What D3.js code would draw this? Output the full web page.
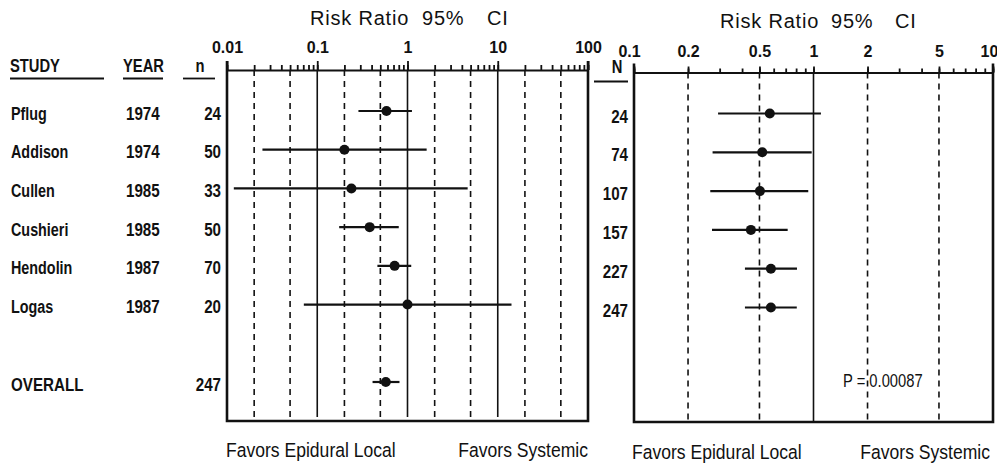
<!DOCTYPE html>
<html><head><meta charset="utf-8">
<script src="https://cdn.jsdelivr.net/npm/d3@7"></script>
<style>body{margin:0;background:#fff} svg{display:block}</style>
</head><body><svg id="c" width="997" height="468"></svg>
<script>
// ---------- data ----------
const studies = ["Pflug","Addison","Cullen","Cushieri","Hendolin","Logas"];
const years = [1974,1974,1985,1985,1987,1987];
const nValues = [24,50,33,50,70,20];
const rr = [0.585,0.20,0.239,0.381,0.72,1.0];
const ciLow = [0.286,0.0247,0.0119,0.175,0.464,0.071];
const ciHigh = [1.12,1.63,4.64,0.80,1.10,14.2];
const overallLabel = "OVERALL";
const overallN = 247;
const overallRR = 0.575, overallLow = 0.41, overallHigh = 0.815;

const cumN = [24,74,107,157,227,247];
const cumRR = [0.571,0.518,0.503,0.448,0.579,0.579];
const cumLow = [0.294,0.274,0.266,0.272,0.415,0.415];
const cumHigh = [1.10,0.977,0.935,0.718,0.809,0.807];
const pText = "P = 0.00087";

const leftTickVals = [0.01,0.1,1,10,100];
const leftTickLabels = ["0.01","0.1","1","10","100"];
const rightTickVals = [0.1,0.2,0.5,1,2,5,10];
const rightTickLabels = ["0.1","0.2","0.5","1","2","5","10"];
const leftDashed = [0.02,0.05,0.2,0.5,2,5,20,50];
const leftSolid = [0.1,1,10];
const rightDashed = [0.2,0.5,2,5];
const rightSolid = [1];
const title = ["Risk Ratio","95%","CI"];
const favors = ["Favors Epidural Local","Favors Systemic"];

// ---------- setup ----------
const svg = d3.select("#c");
const SANS = "'Liberation Sans',Arial,Helvetica,sans-serif";

const xL = d3.scaleLog().domain([0.01,100]).range([227,588]);
const xR = d3.scaleLog().domain([0.1,10]).range([634,993]);
const yL = d3.scaleLinear().domain([0,7]).range([111,382]);
const yR = d3.scaleLinear().domain([0,5]).range([113.5,307.5]);
const L = {top:70, bottom:421};
const R = {top:72.5, bottom:422};

// text helper; sx < 1 gives a condensed look like the original typeface
function txt(x,y,s,opt){
  const sx = opt.sx==null?0.82:opt.sx;
  const t = svg.append("text").attr("transform",`translate(${x},${y}) scale(${sx},1)`).text(s)
    .attr("font-family",SANS).attr("font-size",opt.size||17)
    .attr("font-weight",opt.weight||"bold").attr("fill","#111");
  if(opt.anchor) t.attr("text-anchor",opt.anchor);
  if(opt.ls) t.attr("letter-spacing",opt.ls);
  return t;
}

// ---------- headers ----------
txt(10,71.5,"STUDY",{size:18});
txt(123,71.5,"YEAR",{size:18});
txt(200,71.5,"n",{size:18,anchor:"middle"});
txt(617,72.5,"N",{size:18,anchor:"middle"});
[[10,104,78.5],[123,163,78.5],[183,215,78.5],[594,628,81.5]].forEach(([a,b,y])=>{
  svg.append("line").attr("x1",a).attr("x2",b).attr("y1",y).attr("y2",y)
    .attr("stroke","#111").attr("stroke-width",1.8);
});

// titles
[[310,422,487,25],[720,831,895,28]].forEach(p=>{
  title.forEach((s,i)=>txt(p[i],p[3],s,{size:20,weight:"normal",ls:0.8,sx:1}));
});

// ---------- grid ----------
function grid(x,vals,P,dash,bottomTrim){
  svg.append("g").selectAll("line").data(vals).join("line")
    .attr("x1",d=>x(d)).attr("x2",d=>x(d))
    .attr("y1",P.top).attr("y2",P.bottom-(bottomTrim||0))
    .attr("stroke","#111").attr("stroke-width",1.6)
    .attr("stroke-dasharray",dash?"6,5":null);
}
grid(xL,leftDashed,L,true);
grid(xL,leftSolid,L,false,4);
grid(xR,rightDashed,R,true);
grid(xR,rightSolid,R,false);

// ---------- frames ----------
function frame(x,P){
  const [a,b] = x.range();
  svg.append("path").attr("d",`M${a},${P.top-9}V${P.bottom}H${b}V${P.top-9}`)
    .attr("fill","none").attr("stroke","#111").attr("stroke-width",2.6);
}
frame(xL,L); frame(xR,R);

// ---------- axes ----------
function axis(x,P,vals,labels,majorLen,minorLen,pad){
  const gMin = svg.append("g").attr("transform",`translate(0,${P.top})`)
    .call(d3.axisTop(x).tickValues(x.ticks()).tickSize(minorLen).tickSizeOuter(0).tickFormat(""));
  gMin.selectAll("line").attr("stroke","#111").attr("stroke-width",1.8);
  gMin.select(".domain").attr("stroke","#111").attr("stroke-width",2.2);
  const gMaj = svg.append("g").attr("transform",`translate(0,${P.top})`)
    .call(d3.axisTop(x).tickValues(vals).tickSize(majorLen).tickSizeOuter(0).tickPadding(pad)
      .tickFormat((d,i)=>labels[i]));
  gMaj.select(".domain").remove();
  gMaj.selectAll("line").attr("stroke","#111").attr("stroke-width",1.8);
  gMaj.selectAll("text").attr("font-family",SANS).attr("font-size",16)
    .attr("font-weight","bold").attr("fill","#111");
  return gMaj;
}
axis(xL,L,leftTickVals,leftTickLabels,9,5,8);
const gR = axis(xR,R,rightTickVals,rightTickLabels,6,4,9.5);
gR.selectAll("text").filter((d,i)=>i===rightTickVals.length-1).attr("dx",-4);
gR.selectAll("text").filter((d,i)=>i===0).attr("dx",-5);

// ---------- left panel rows ----------
const rowsL = studies.map((s,i)=>({s,yr:years[i],n:nValues[i],rr:rr[i],lo:ciLow[i],hi:ciHigh[i],i}));
rowsL.push({s:overallLabel,yr:"",n:overallN,rr:overallRR,lo:overallLow,hi:overallHigh,i:7});

const gl = svg.append("g");
gl.selectAll("line.ci").data(rowsL).join("line").attr("class","ci")
  .attr("x1",d=>xL(d.lo)).attr("x2",d=>xL(d.hi))
  .attr("y1",d=>yL(d.i)).attr("y2",d=>yL(d.i))
  .attr("stroke","#111").attr("stroke-width",2.2);
gl.selectAll("circle").data(rowsL).join("circle")
  .attr("cx",d=>xL(d.rr)).attr("cy",d=>yL(d.i)).attr("r",5).attr("fill","#111");

rowsL.forEach(d=>{
  txt(11,yL(d.i)+(d.i==7?9:8.5),d.s,{size:d.i==7?18.5:17.5});
  if(d.yr!=="") txt(126,yL(d.i)+8.5,d.yr,{size:18.5});
  txt(221,yL(d.i)+8.5,d.n,{size:18.5,anchor:"end"});
});

// ---------- right panel rows ----------
const rowsR = cumN.map((n,i)=>({n,rr:cumRR[i],lo:cumLow[i],hi:cumHigh[i],i}));
const gr = svg.append("g");
gr.selectAll("line.ci").data(rowsR).join("line").attr("class","ci")
  .attr("x1",d=>xR(d.lo)).attr("x2",d=>xR(d.hi))
  .attr("y1",d=>yR(d.i)).attr("y2",d=>yR(d.i))
  .attr("stroke","#111").attr("stroke-width",2.2);
gr.selectAll("circle").data(rowsR).join("circle")
  .attr("cx",d=>xR(d.rr)).attr("cy",d=>yR(d.i)).attr("r",5).attr("fill","#111");
rowsR.forEach(d=>txt(628,yR(d.i)+9,d.n,{size:18.5,anchor:"end"}));

txt(843,386.5,pText,{size:18,weight:"normal"});

// ---------- bottom labels ----------
txt(226,457,favors[0],{size:19.5,weight:"normal",sx:0.9});
txt(588,457,favors[1],{size:19.5,weight:"normal",anchor:"end",sx:0.9});
txt(632,459,favors[0],{size:19.5,weight:"normal",sx:0.9});
txt(990,459,favors[1],{size:19.5,weight:"normal",anchor:"end",sx:0.9});
</script></body></html>
